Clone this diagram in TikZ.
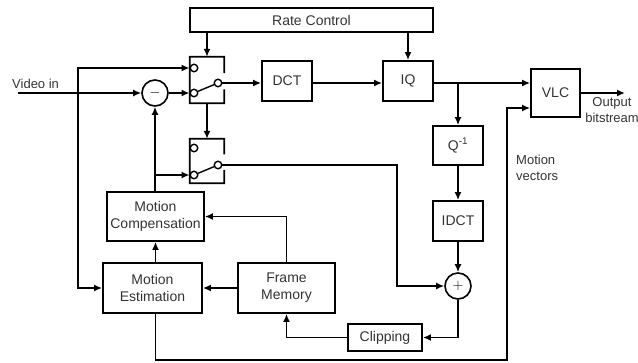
\documentclass[tikz,border=0pt]{standalone}
\usepackage{fontspec}
\setmainfont{Liberation Sans}
\usetikzlibrary{arrows.meta,calc}

\tikzstyle{block} = [rectangle, draw, line width=1.8pt, align=center, inner sep=0pt,
	text=black!80, font=\fontsize{14}{17}\selectfont]
\tikzstyle{adder} = [circle, draw, line width=1.6pt, minimum size=26pt, inner sep=0pt,
	font=\fontsize{15}{15}\selectfont]
\tikzstyle{term} = [circle, draw, fill=white, line width=1.4pt, minimum size=7.5pt, inner sep=0pt]
\tikzstyle{swbox} = [rectangle, minimum width=34pt, inner sep=0pt]
\tikzstyle{lbl} = [align=left, inner sep=0pt, text=black!80, font=\fontsize{13}{16}\selectfont]
\tikzstyle{arr} = [line width=1.8pt, -{Latex[length=8pt,width=7pt]}]

\begin{document}
\begin{tikzpicture}[x=1pt,y=-1pt]
\useasboundingbox (0,0) rectangle (638,362);

\node [block, minimum width=243pt, minimum height=24pt] (rate) at (311.5,20) {Rate Control};
\node [swbox, minimum height=46pt] (sw1) at (207,80) {};
\node [swbox, minimum height=44pt] (sw2) at (207,161) {};
\node [adder] (sub) at (155,93) {$-$};
\node [block, minimum width=50pt, minimum height=40pt] (dct) at (287,81) {DCT};
\node [block, minimum width=50pt, minimum height=40pt] (iq) at (408,81) {IQ};
\node [block, minimum width=49pt, minimum height=48pt] (vlc) at (555.5,93) {VLC};
\node [block, minimum width=50pt, minimum height=39pt] (qinv) at (458,145.5) {Q\textsuperscript{-1}};
\node [block, minimum width=50pt, minimum height=40pt] (idct) at (458,221) {IDCT};
\node [adder] (add) at (458,286) {$+$};
\node [block, minimum width=74pt, minimum height=27pt] (clip) at (385,337.5) {Clipping};
\node [block, minimum width=97pt, minimum height=50pt] (fm) at (286.5,288) {Frame\\Memory};
\node [block, minimum width=99pt, minimum height=50pt] (me) at (152.5,288) {Motion\\Estimation};
\node [block, minimum width=97pt, minimum height=49pt] (mc) at (155.5,216.5) {Motion\\Compensation};

\node [lbl, anchor=base west] (vin) at (12,88) {Video in};
\node [lbl, align=center, anchor=north] (obs) at (612,97) {Output\\bitstream};
\node [lbl, anchor=west] (mv) at (516,168) {Motion\\vectors};

\foreach \s in {sw1,sw2}
	\draw [line width=1.8pt] ($(\s.north east)!0.35!(\s.south east)$) -- (\s.north east)
		-- (\s.north west) -- (\s.south west) -- (\s.south east)
		-- ($(\s.south east)!0.3!(\s.north east)$);

\node [term] (t1a) at (194,68) {};
\node [term] (t1b) at (194,93) {};
\node [term] (t1o) at (218,83) {};
\node [term] (t2a) at (194,148) {};
\node [term] (t2b) at (194,175) {};
\node [term] (t2o) at (218,165) {};
\draw [line width=1.4pt] (t1b) -- (t1o);
\draw [line width=1.4pt] (t2b) -- (t2o);

\coordinate (in) at (18,93);
\coordinate (br) at (78,93);
\coordinate (out) at (625,93);
\coordinate (mvl) at (507,360);

\draw [arr] (rate.south -| sw1.north) -- (sw1.north);
\draw [arr] (rate.south -| iq.north) -- (iq.north);
\draw [arr] (in) -- (sub.west);
\draw [arr] (br) |- (t1a.west);
\draw [arr] (br) |- (me.west);
\draw [arr] (sub.east) -- (t1b.west);
\draw [arr] (sw1.south) -- (sw2.north);

\draw [arr] (t1o.east) -- (t1o -| dct.west);
\draw [arr] (dct.east |- t1o) -- (iq.west |- t1o);
\draw [arr] (iq.east |- t1o) -- (vlc.west |- t1o);
\draw [arr] (qinv.north |- t1o) -- (qinv.north);
\draw [arr] (qinv) -- (idct);
\draw [arr] (idct) -- (add);
\draw [arr] (vlc.east) -- (out);

\draw [arr] (t2o.east) -- (397,165) |- (add.west);
\draw [arr] (add.south) |- (clip.east);
\draw [arr] (clip.west) -| (fm.south);
\draw [arr] (fm.west) -- (me.east);
\draw [arr] (fm.north) |- (mc.east);
\draw [arr] (me.north -| mc.south) -- (mc.south);
\draw [arr] (mc.north -| sub.south) -- (sub.south);
\draw [arr] (sub.south |- t2b) -- (t2b.west);
\draw [arr] (me.south -| mc.south) |- (mvl) |- ($(vlc.west)+(0,15)$);
\end{tikzpicture}
\end{document}
